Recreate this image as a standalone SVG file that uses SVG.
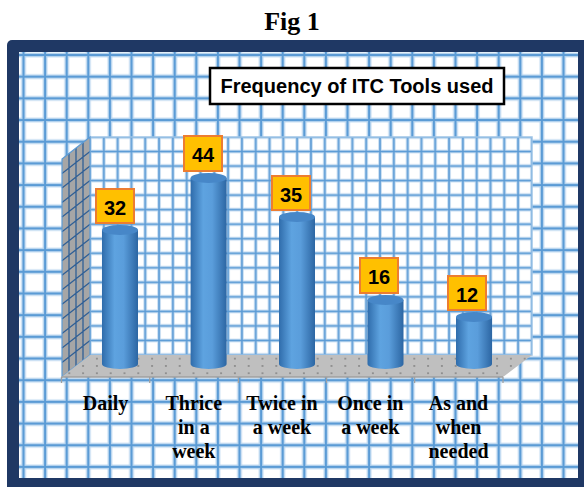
<svg xmlns="http://www.w3.org/2000/svg" width="584" height="487" viewBox="0 0 584 487">
<defs>
<style>
.lbl{font-family:"Liberation Serif","Times New Roman",serif;font-weight:bold;font-size:20px;fill:#000;text-anchor:middle}
.val{font-family:"Liberation Sans",Arial,sans-serif;font-weight:bold;font-size:20px;fill:#000;text-anchor:middle}
.vbox{fill:#ffc000;stroke:#ed7d31;stroke-width:2}
.body{fill:url(#cyl)}
.top{fill:#4787c8}
.wl{stroke:#2f5f96;stroke-width:1.3;fill:none}
.tick{stroke:#a0a0a0;stroke-width:1.3}
</style>
<pattern id="og" patternUnits="userSpaceOnUse" x="12.7" y="44.16" width="21.6" height="21.68">
<rect x="8.45" y="0" width="4.7" height="21.68" fill="#b7d4ef"/>
<rect x="0" y="8.49" width="21.6" height="4.7" fill="#b7d4ef"/>
<rect x="9.8" y="0" width="2" height="21.68" fill="#5b9bd5"/>
<rect x="0" y="9.84" width="21.6" height="2" fill="#5b9bd5"/>
</pattern>
<pattern id="bg" patternUnits="userSpaceOnUse" x="83.1" y="129.73" width="13.81" height="14.533">
<rect x="5.1" y="0" width="3.6" height="14.533" fill="#c3dbf1"/>
<rect x="0" y="5.47" width="13.81" height="3.6" fill="#c3dbf1"/>
<rect x="6.1" y="0" width="1.6" height="14.533" fill="#5b9bd5"/>
<rect x="0" y="6.47" width="13.81" height="1.6" fill="#5b9bd5"/>
</pattern>
<pattern id="dots" patternUnits="userSpaceOnUse" x="90" y="355" width="13.8" height="7.3">
<circle cx="6.9" cy="3.6" r="0.9" fill="#7a7a7a"/>
</pattern>
<linearGradient id="cyl" x1="0" y1="0" x2="1" y2="0">
<stop offset="0" stop-color="#2f6cab"/>
<stop offset="0.35" stop-color="#5ea3e0"/>
<stop offset="0.6" stop-color="#5a9ddb"/>
<stop offset="1" stop-color="#2c66a3"/>
</linearGradient>
</defs>

<text x="292" y="30" font-family="'Liberation Serif','Times New Roman',serif" font-weight="bold" font-size="26" text-anchor="middle">Fig 1</text>

<g id="frame">
<rect x="7" y="40" width="590" height="460" rx="5" fill="#1f3864"/>
<rect x="19" y="52" width="559" height="426" fill="#ffffff"/>
<rect x="19" y="52" width="559" height="426" fill="url(#og)"/>
</g>

<g id="plot-area">
<rect x="90" y="137" width="442" height="218" fill="#ffffff"/>
<rect x="90" y="137" width="442" height="218" fill="url(#bg)" stroke="#9dc3e6" stroke-width="1.5"/>
<polygon points="62,159 90,137 90,355 62,377" fill="#a6a6a6"/>
<path class="wl" d="M90 151.5L62 173.5M90 166.1L62 188.1M90 180.6L62 202.6M90 195.1L62 217.1M90 209.7L62 231.7M90 224.2L62 246.2M90 238.7L62 260.7M90 253.3L62 275.3M90 267.8L62 289.8M90 282.3L62 304.3M90 296.9L62 318.9M90 311.4L62 333.4M90 325.9L62 347.9M90 340.5L62 362.5M69 153.5V371.5M76 148V366M83 142.5V360.5"/>
<polygon points="62,159 90,137 90,355 62,377" fill="none" stroke="#5b9bd5" stroke-width="1.2"/>
<polygon points="61.5,377 90,355 532,355 503,377" fill="#bfbfbf"/>
<polygon points="61.5,377 90,355 532,355 503,377" fill="url(#dots)"/>
<path class="tick" d="M61.5 377H503M61.5 377V383M149.7 377V383M238.4 377V383M326.5 377V383M414.6 377V383M503 377V383"/>
</g>

<g id="bar-daily">
<path class="body" d="M102 230V364A18 5 0 0 0 138 364V230Z"/>
<ellipse class="top" cx="120" cy="230" rx="18" ry="5"/>
<rect class="vbox" x="96" y="189" width="38" height="34"/>
<text class="val" x="115" y="215">32</text>
</g>
<g id="bar-thrice">
<path class="body" d="M190.6 178V364A18 5 0 0 0 226.6 364V178Z"/>
<ellipse class="top" cx="208.6" cy="178" rx="18" ry="5"/>
<rect class="vbox" x="184" y="136" width="38" height="35"/>
<text class="val" x="203" y="162">44</text>
</g>
<g id="bar-twice">
<path class="body" d="M279 217V364A18 5 0 0 0 315 364V217Z"/>
<ellipse class="top" cx="297" cy="217" rx="18" ry="5"/>
<rect class="vbox" x="272" y="176" width="38" height="34"/>
<text class="val" x="291" y="202">35</text>
</g>
<g id="bar-once">
<path class="body" d="M367.5 300V364A18 5 0 0 0 403.5 364V300Z"/>
<ellipse class="top" cx="385.5" cy="300" rx="18" ry="5"/>
<rect class="vbox" x="360" y="258" width="38" height="35"/>
<text class="val" x="379" y="284">16</text>
</g>
<g id="bar-asneeded">
<path class="body" d="M456 317V364A18 5 0 0 0 492 364V317Z"/>
<ellipse class="top" cx="474" cy="317" rx="18" ry="5"/>
<rect class="vbox" x="448" y="276" width="38" height="34"/>
<text class="val" x="467" y="302">12</text>
</g>

<g id="title">
<rect x="210" y="68" width="294" height="36" fill="#ffffff" stroke="#000000" stroke-width="2.5"/>
<text x="357" y="93" font-family="'Liberation Sans',Arial,sans-serif" font-weight="bold" font-size="20" text-anchor="middle">Frequency of ITC Tools used</text>
</g>

<g id="axis-labels">
<text class="lbl" x="105.6" y="410">Daily</text>
<text class="lbl" x="193.8" y="410">Thrice</text>
<text class="lbl" x="193.8" y="434">in a</text>
<text class="lbl" x="193.8" y="458">week</text>
<text class="lbl" x="282" y="410">Twice in</text>
<text class="lbl" x="282" y="434">a week</text>
<text class="lbl" x="370.3" y="410">Once in</text>
<text class="lbl" x="370.3" y="434">a week</text>
<text class="lbl" x="458.5" y="410">As and</text>
<text class="lbl" x="458.5" y="434">when</text>
<text class="lbl" x="458.5" y="458">needed</text>
</g>
</svg>
